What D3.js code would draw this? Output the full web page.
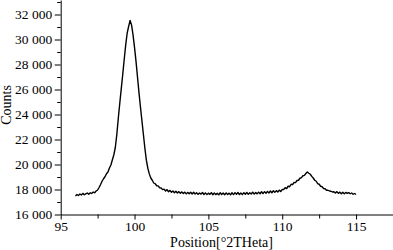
<!DOCTYPE html>
<html><head><meta charset="utf-8">
<script src="https://cdn.jsdelivr.net/npm/d3@7"></script>
<style>
html,body{margin:0;padding:0;background:#fff;}
svg{display:block;}
text{font-family:"Liberation Serif","Times New Roman",serif;fill:#000;}
</style></head>
<body>
<svg id="c" width="393" height="250"></svg>
<script>
// --- data ---
const positions = [
 96.0,96.1,96.2,96.3,96.4,96.5,96.6,96.7,96.8,96.9,
 97.0,97.1,97.2,97.3,97.4,97.5,97.6,97.7,97.8,97.9,
 98.0,98.1,98.2,98.3,98.4,98.5,98.6,98.7,98.8,98.9,
 99.0,99.1,99.2,99.3,99.4,99.5,99.6,99.7,99.8,99.9,
 100.0,100.1,100.2,100.3,100.4,100.5,100.6,100.7,100.8,100.9,
 101.0,101.1,101.2,101.3,101.4,101.5,101.6,101.7,101.8,101.9,
 102.0,102.1,102.2,102.3,102.4,102.5,102.6,102.7,102.8,102.9,
 103.0,103.1,103.2,103.3,103.4,103.5,103.6,103.7,103.8,103.9,
 104.0,104.1,104.2,104.3,104.4,104.5,104.6,104.7,104.8,104.9,
 105.0,105.1,105.2,105.3,105.4,105.5,105.6,105.7,105.8,105.9,
 106.0,106.1,106.2,106.3,106.4,106.5,106.6,106.7,106.8,106.9,
 107.0,107.1,107.2,107.3,107.4,107.5,107.6,107.7,107.8,107.9,
 108.0,108.1,108.2,108.3,108.4,108.5,108.6,108.7,108.8,108.9,
 109.0,109.1,109.2,109.3,109.4,109.5,109.6,109.7,109.8,109.9,
 110.0,110.1,110.2,110.3,110.4,110.5,110.6,110.7,110.8,110.9,
 111.0,111.1,111.2,111.3,111.4,111.5,111.6,111.7,111.8,111.9,
 112.0,112.1,112.2,112.3,112.4,112.5,112.6,112.7,112.8,112.9,
 113.0,113.1,113.2,113.3,113.4,113.5,113.6,113.7,113.8,113.9,
 114.0,114.1,114.2,114.3,114.4,114.5,114.6,114.7,114.8,114.9,
 115.0
];
const counts = [
 17470,17600,17520,17640,17560,17690,17580,17650,17720,17620,
 17740,17680,17800,17740,17880,17960,18160,18400,18660,18860,
 19020,19260,19400,19720,19960,20380,20780,21380,22400,23700,
 24900,26050,27200,28400,29550,30500,31050,31520,31150,30350,
 29350,28250,27000,25750,24600,23500,22400,21300,20350,19700,
 19250,18920,18740,18520,18460,18300,18290,18140,18120,17990,
 18030,17880,17990,17820,17930,17780,17880,17740,17860,17720,
 17830,17700,17810,17680,17790,17650,17770,17660,17780,17640,
 17780,17640,17740,17610,17720,17630,17760,17600,17730,17590,
 17710,17610,17750,17580,17720,17590,17700,17570,17740,17600,
 17720,17580,17730,17600,17710,17570,17740,17590,17750,17610,
 17760,17600,17720,17590,17750,17620,17770,17610,17740,17640,
 17790,17630,17760,17650,17790,17660,17820,17670,17830,17700,
 17850,17720,17880,17740,17900,17770,17910,17800,17950,17840,
 18010,18000,18150,18070,18270,18220,18420,18390,18560,18550,
 18720,18740,18900,18950,19100,19130,19280,19400,19300,19220,
 19050,18920,18740,18660,18470,18420,18260,18220,18080,18060,
 17940,17940,17880,17860,17800,17820,17720,17830,17690,17790,
 17660,17780,17650,17770,17690,17750,17660,17720,17620,17680,
 17600
];
const xMajorTicks = [95,100,105,110,115];
const xMinorTicks = [97.5,102.5,107.5,112.5];
const yMajorTicks = [16000,18000,20000,22000,24000,26000,28000,30000,32000];
const yMinorTicks = [17000,19000,21000,23000,25000,27000,29000,31000,33000];
const xTitle = "Position[°2THeta]";
const yTitle = "Counts";

// --- drawing ---
const svg = d3.select("#c");
const x = d3.scaleLinear().domain([95,117.5]).range([60.7,393]);
const y = d3.scaleLinear().domain([16000,33160]).range([214.5,0]);
const loc = d3.formatLocale({decimal:".", thousands:" ", grouping:[3], currency:["",""]});
const fmt = loc.format(",d");

const gx = svg.append("g").attr("transform",`translate(0,${y(16000)})`);
gx.call(d3.axisBottom(x).tickValues(xMajorTicks).tickSize(5).tickSizeOuter(0).tickPadding(1.5).tickFormat(d3.format("d")));
const gxm = svg.append("g").attr("transform",`translate(0,${y(16000)})`);
gxm.call(d3.axisBottom(x).tickValues(xMinorTicks).tickSize(4).tickSizeOuter(0).tickFormat(""));
gxm.select(".domain").remove();

const gy = svg.append("g").attr("transform",`translate(${x(95)},0)`);
gy.call(d3.axisLeft(y).tickValues(yMajorTicks).tickSize(6).tickSizeOuter(0).tickPadding(2.5).tickFormat(fmt));
const gym = svg.append("g").attr("transform",`translate(${x(95)},0)`);
gym.call(d3.axisLeft(y).tickValues(yMinorTicks).tickSize(3.5).tickSizeOuter(0).tickFormat(""));
gym.select(".domain").remove();

svg.selectAll(".tick text").attr("font-family","Liberation Serif").attr("font-size","13.5px").attr("fill","#000");
svg.selectAll(".domain, .tick line").attr("stroke","#000");

const pts = positions.map((p,i)=>[p,counts[i]]);
svg.append("path").datum(pts)
  .attr("fill","none").attr("stroke","#000").attr("stroke-width",1.4).attr("stroke-linejoin","round")
  .attr("d", d3.line().x(d=>x(d[0])).y(d=>y(d[1])));

svg.append("text").attr("x",221.5).attr("y",247).attr("text-anchor","middle")
  .attr("font-size","14px").text(xTitle);
svg.append("text").attr("transform","translate(11,105) rotate(-90)").attr("text-anchor","middle")
  .attr("font-size","14px").text(yTitle);
</script>
</body></html>
